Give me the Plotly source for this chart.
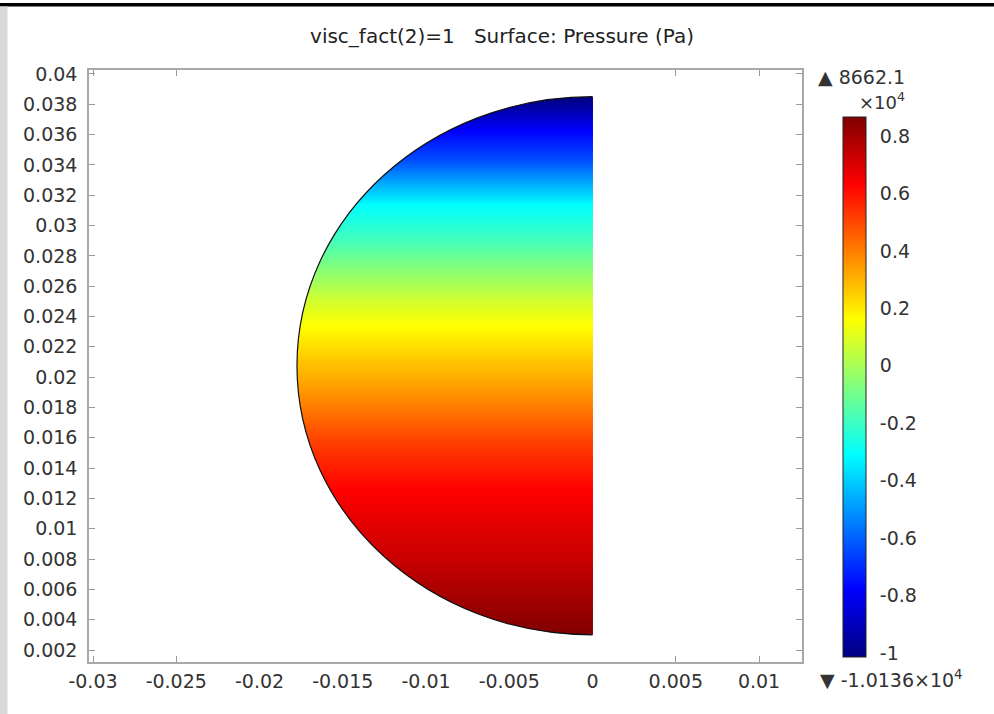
import plotly.graph_objects as go

# ---------------- data ----------------
# pressure profile along the vertical (the field varies with height only)
PROFILE_Y = [0.00299, 0.00794, 0.01256, 0.01586, 0.01850, 0.02113, 0.02344,
             0.02509, 0.02740, 0.02905, 0.03136, 0.03433, 0.03630, 0.03848]
PROFILE_P = [8662.1, 7346, 6312, 5090, 3775, 2647, 1613,
             767, -737, -1865, -3087, -6376, -7786, -10136]
P_MIN = -10136
P_MAX = 8662.1

# half-disk geometry (m)
RADIUS = 0.01775
CENTER_Y = 0.02075

X_TICKS = [-0.03, -0.025, -0.02, -0.015, -0.01, -0.005, 0, 0.005, 0.01]
X_TICK_LABELS = ["-0.03", "-0.025", "-0.02", "-0.015", "-0.01", "-0.005", "0", "0.005", "0.01"]
Y_TICKS = [0.002, 0.004, 0.006, 0.008, 0.01, 0.012, 0.014, 0.016, 0.018, 0.02,
           0.022, 0.024, 0.026, 0.028, 0.03, 0.032, 0.034, 0.036, 0.038, 0.04]
Y_TICK_LABELS = ["0.002", "0.004", "0.006", "0.008", "0.01", "0.012", "0.014", "0.016",
                 "0.018", "0.02", "0.022", "0.024", "0.026", "0.028", "0.03", "0.032",
                 "0.034", "0.036", "0.038", "0.04"]
CB_TICKS = [-10000, -8000, -6000, -4000, -2000, 0, 2000, 4000, 6000, 8000]
CB_TICK_LABELS = ["-1", "-0.8", "-0.6", "-0.4", "-0.2", "0", "0.2", "0.4", "0.6", "0.8"]

TITLE = "visc_fact(2)=1&nbsp;&nbsp;&nbsp;Surface: Pressure (Pa)"

# ---------------- figure ----------------
W, H = 994, 714
ML, MR, MT, MB = 89, 192, 70, 52
PW, PH = W - ML - MR, H - MT - MB


def px(xp):
    return (xp - ML) / PW


def py(yp):
    return (H - MB - yp) / PH


JET = [[0.0, "rgb(0,0,128)"], [0.125, "rgb(0,0,255)"], [0.375, "rgb(0,255,255)"],
       [0.625, "rgb(255,255,0)"], [0.875, "rgb(255,0,0)"], [1.0, "rgb(128,0,0)"]]

x_edges = [-RADIUS, -RADIUS / 2, 0.0]
z = [[p, p] for p in PROFILE_P]

font_family = "DejaVu Sans"
tick_color = "#333333"
FS = 19

fig = go.Figure()
fig.add_trace(go.Heatmap(
    x=x_edges, y=PROFILE_Y, z=z, zmin=P_MIN, zmax=P_MAX,
    colorscale=JET, zsmooth="best", hoverinfo="skip",
    colorbar=dict(
        thickness=23, thicknessmode="pixels", len=540, lenmode="pixels",
        x=px(843), xanchor="left", y=py(657), yanchor="bottom", xpad=0, ypad=0,
        outlinecolor="#222222", outlinewidth=1,
        tickmode="array", tickvals=CB_TICKS, ticktext=CB_TICK_LABELS,
        ticks="outside", ticklen=10, tickcolor="rgba(0,0,0,0)",
        tickfont=dict(family=font_family, size=FS, color=tick_color),
    ),
))

k = 0.5523
R, yc = RADIUS, CENTER_Y
eps = 0.0004
arc = (f"C {-k * R},{yc - R} {-R},{yc - k * R} {-R},{yc} "
       f"C {-R},{yc + k * R} {-k * R},{yc + R} 0,{yc + R}")
mask = (f"M {eps},{yc + 1.5 * R} L {-1.3 * R},{yc + 1.5 * R} L {-1.3 * R},{yc - 1.5 * R} "
        f"L {eps},{yc - 1.5 * R} L {eps},{yc - R} L 0,{yc - R} " + arc +
        f" L {eps},{yc + R} Z")
outline = f"M 0,{yc - R} " + arc

shapes = [
    dict(type="path", path=mask, xref="x", yref="y", fillcolor="white",
         line=dict(width=0), layer="above"),
    dict(type="path", path=outline, xref="x", yref="y",
         line=dict(color="#111111", width=1.2), layer="above"),
    # page frame: black bar at top, grey strip at left
    dict(type="rect", xref="paper", yref="paper", x0=px(0), x1=px(W), y0=py(6.5), y1=py(3),
         fillcolor="black", line=dict(width=0), layer="above"),
    dict(type="rect", xref="paper", yref="paper", x0=px(0), x1=px(7.5), y0=py(H), y1=py(6.5),
         fillcolor="#d9d9d9", line=dict(width=0), layer="above"),
]

annotations = [
    dict(text="▲ 8662.1", xref="paper", yref="paper", x=px(907), y=py(77),
         xanchor="right", yanchor="middle", showarrow=False,
         font=dict(family=font_family, size=FS, color=tick_color)),
    dict(text="×10<sup>4</sup>", xref="paper", yref="paper", x=px(907), y=py(101),
         xanchor="right", yanchor="middle", showarrow=False,
         font=dict(family=font_family, size=18, color=tick_color)),
    dict(text="▼ -1.0136×10<sup>4</sup>", xref="paper", yref="paper", x=px(818), y=py(679),
         xanchor="left", yanchor="middle", showarrow=False,
         font=dict(family=font_family, size=FS, color=tick_color)),
]

axis_common = dict(
    ticks="inside", ticklen=6, tickcolor="#9a9a9a", tickwidth=1,
    showline=True, linecolor="#a8a8a8", linewidth=1.5, mirror="ticks",
    showgrid=False, zeroline=False,
    tickfont=dict(family=font_family, size=FS, color=tick_color),
)

fig.update_layout(
    width=W, height=H, margin=dict(l=ML, r=MR, t=MT, b=MB, pad=0),
    paper_bgcolor="white", plot_bgcolor="white",
    title=dict(text=TITLE, x=502 / W, xref="container", xanchor="center",
               y=1 - 36 / H, yref="container", yanchor="middle",
               font=dict(family=font_family, size=20, color="#222222")),
    xaxis=dict(range=[-0.03024, 0.01258], tickmode="array", tickvals=X_TICKS,
               ticktext=X_TICK_LABELS, ticklabelstandoff=1, **axis_common),
    yaxis=dict(range=[0.00121, 0.04026], tickmode="array", tickvals=Y_TICKS,
               ticktext=Y_TICK_LABELS, ticklabelstandoff=6, **axis_common),
    shapes=shapes, annotations=annotations, showlegend=False,
)

fig.write_html("out.html")
